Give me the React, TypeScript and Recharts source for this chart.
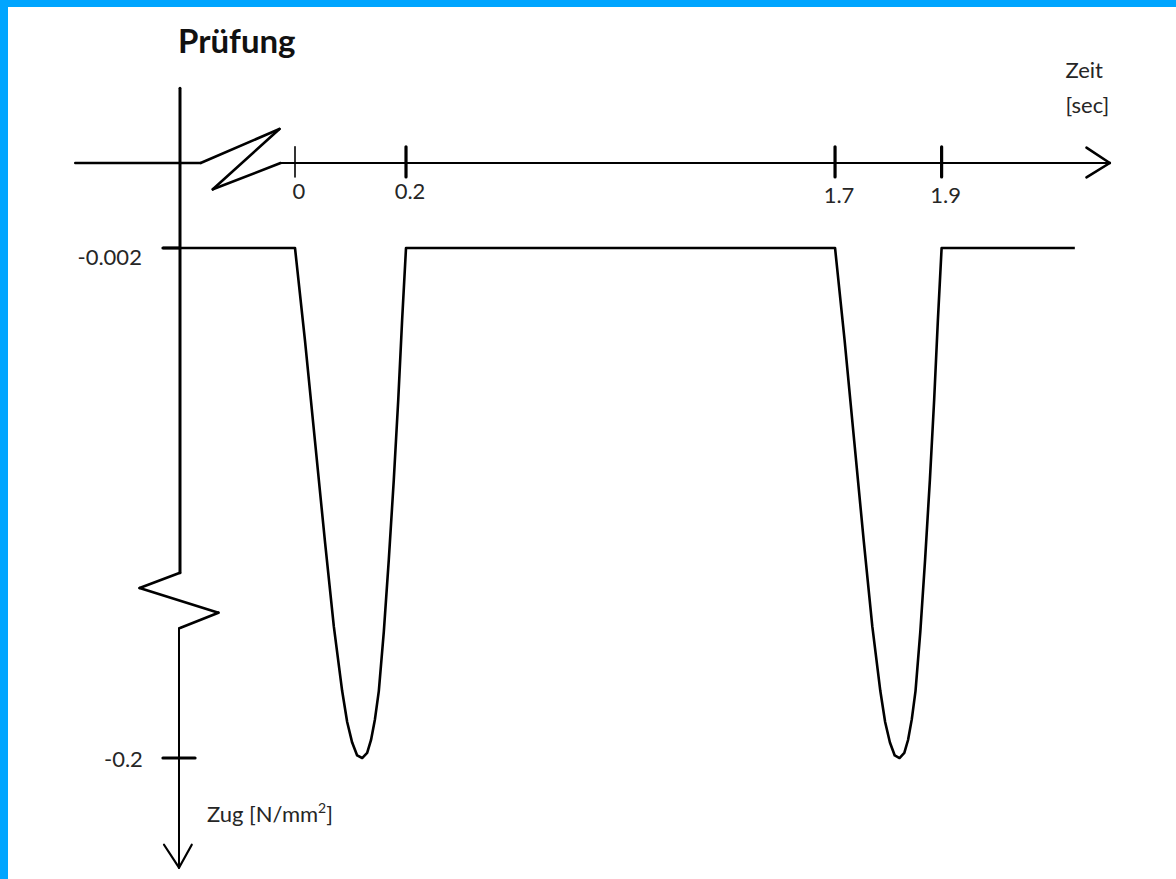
import React from "react";
import { LineChart, Line, XAxis, YAxis, ReferenceLine } from "recharts";

// Prüfung — schematic stress history: two tension pulses on broken axes

const TIME = [
  -0.238,
  0, 0.018, 0.036, 0.054, 0.07, 0.085, 0.094, 0.103, 0.112, 0.121,
  0.13, 0.137, 0.144, 0.151, 0.16, 0.169, 0.178, 0.186, 0.193, 0.2,
  1.7, 1.718, 1.736, 1.754, 1.77, 1.785, 1.794, 1.803, 1.812, 1.821,
  1.83, 1.837, 1.844, 1.851, 1.86, 1.869, 1.878, 1.886, 1.893, 1.9,
  2.15,
];
const STRESS = [
  -0.002,
  -0.002, -0.038, -0.077, -0.116, -0.149, -0.174, -0.186, -0.194, -0.199, -0.2,
  -0.198, -0.193, -0.185, -0.174, -0.151, -0.123, -0.092, -0.061, -0.03, -0.002,
  -0.002, -0.038, -0.077, -0.116, -0.149, -0.174, -0.186, -0.194, -0.199, -0.2,
  -0.198, -0.193, -0.185, -0.174, -0.151, -0.123, -0.092, -0.061, -0.03, -0.002,
  -0.002,
];
const X_TICKS = [0, 0.2, 1.7, 1.9];
const Y_TICKS = [-0.002, -0.2];

// not to scale: the pause 0.2–1.7 s is squeezed and the band 0…-0.002 is
// stretched, so both axes go through piecewise knots
const TIME_KNOTS = [0, 0.2, 1.7, 1.9];
const TIME_AXIS = [0, 1, 4.865, 5.825];
const STRESS_KNOTS = [0, -0.002, -0.2];
const STRESS_AXIS = [0, -1, -7];

function piecewise(v: number, knots: number[], axis: number[]) {
  const up = knots[1] > knots[0];
  let i = 0;
  while (i < knots.length - 2 && (up ? v > knots[i + 1] : v < knots[i + 1])) i++;
  const k = (axis[i + 1] - axis[i]) / (knots[i + 1] - knots[i]);
  return axis[i] + (v - knots[i]) * k;
}
const tx = (t: number) => piecewise(t, TIME_KNOTS, TIME_AXIS);
const sy = (s: number) => piecewise(s, STRESS_KNOTS, STRESS_AXIS);

const data = TIME.map((t, i) => ({ x: tx(t), y: sy(STRESS[i]) }));

const BLUE = "#00A5FF";
const FONT = "Lato, 'Open Sans', sans-serif";
const INK = "#262626";

type P = [number, number];

const seg = (a: P, b: P, w: number, key: string, label?: any) => (
  <ReferenceLine
    key={key}
    segment={[{ x: a[0], y: a[1] }, { x: b[0], y: b[1] }]}
    stroke="#000"
    strokeWidth={w}
    strokeLinecap="round"
    ifOverflow="visible"
    label={label}
  />
);

const poly = (pts: P[], w: number, key: string) =>
  pts.slice(1).map((p, i) => seg(pts[i], p, w, `${key}-${i}`));

const textAt =
  (dx: number, dy: number, body: React.ReactNode, anchor = "start", size = 22, weight = 400, fill = INK) =>
  (p: any) => (
    <text
      x={p.viewBox.x + dx}
      y={p.viewBox.y + dy}
      textAnchor={anchor}
      fontFamily={FONT}
      fontSize={size}
      fontWeight={weight}
      fill={fill}
    >
      {body}
    </text>
  );

const timeTitle = (p: any) => (
  <text fontFamily={FONT} fontSize={22} fill={INK}>
    <tspan x={p.viewBox.x - 21} y={p.viewBox.y - 70}>Zeit</tspan>
    <tspan x={p.viewBox.x - 21} y={p.viewBox.y - 35}>[sec]</tspan>
  </text>
);

const YAX = -1.036; // stress axis position, in time-axis units
const YAX_LOW = -1.045;

export default function App() {
  return (
    <div style={{ position: "absolute", left: 0, top: 0, width: 1176, height: 879, background: BLUE }}>
      <div style={{ position: "absolute", left: 8, top: 7, right: 0, bottom: 0, background: "#fff" }} />
      <div style={{ position: "absolute", left: 0, top: 0 }}>
        <LineChart width={1176} height={879} data={data} margin={{ top: 20, right: 56, bottom: 4, left: 60 }}>
          <XAxis type="number" dataKey="x" domain={[-2.117, 7.432]} hide />
          <YAxis type="number" dataKey="y" domain={[-8.376, 1.682]} hide />

          {/* time axis with break and arrow */}
          {seg([-1.98, 0], [-0.85, 0], 2.4, "xlead")}
          {poly([[-0.85, 0], [-0.14, 0.4], [-0.74, -0.31], [-0.13, 0]], 2.6, "xbreak")}
          {seg([-0.13, 0], [7.34, 0], 2, "xmain")}
          {seg([7.13, 0.18], [7.34, 0], 2.6, "xarrow1", timeTitle)}
          {seg([7.34, 0], [7.13, -0.17], 2.6, "xarrow2")}

          {/* stress axis with break and arrow */}
          {seg([YAX, 0.88], [YAX, -4.82], 3, "yup", textAt(-2, -35, "Prüfung", "start", 33, 700, "#111"))}
          {poly([[YAX, -4.82], [-1.4, -5.0], [-0.69, -5.29], [YAX, -5.47]], 2.6, "ybreak")}
          {seg(
            [YAX_LOW, -5.47],
            [YAX_LOW, -8.29],
            2,
            "ylow",
            textAt(
              28,
              194,
              <>
                Zug [N/mm<tspan dy={-9} fontSize={14}>2</tspan>
                <tspan dy={9}>]</tspan>
              </>
            )
          )}
          {seg([-1.18, -8.02], [YAX_LOW, -8.29], 2.2, "yarrow1")}
          {seg([YAX_LOW, -8.29], [-0.93, -8.02], 2.2, "yarrow2")}

          {/* ticks */}
          {X_TICKS.map((t, i) =>
            seg([tx(t), 0.19], [tx(t), -0.165], t === 0 ? 1.6 : 3.2, `xt${i}`,
              textAt(4, t < 1 ? 52 : 56, String(t), "middle"))
          )}
          {seg([-1.19, sy(Y_TICKS[0])], [YAX, sy(Y_TICKS[0])], 3, "yt0", textAt(-21, 17, String(Y_TICKS[0]), "end"))}
          {seg([-1.19, sy(Y_TICKS[1])], [-0.9, sy(Y_TICKS[1])], 3, "yt1", textAt(-20, 9, String(Y_TICKS[1]), "end"))}

          <Line
            type="linear"
            dataKey="y"
            stroke="#000"
            strokeWidth={2.6}
            strokeLinejoin="round"
            dot={false}
            activeDot={false}
            isAnimationActive={false}
          />
        </LineChart>
      </div>
    </div>
  );
}
